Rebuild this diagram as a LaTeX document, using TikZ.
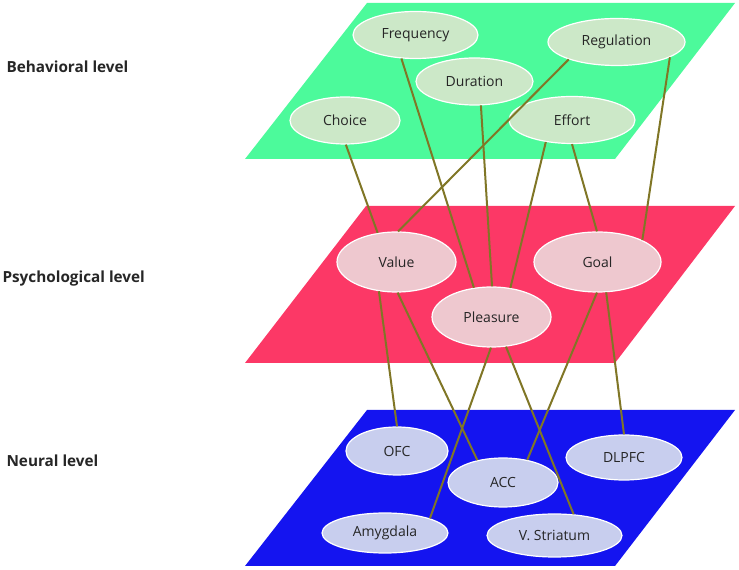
\documentclass[tikz,border=0pt]{standalone}
\usepackage{fontspec}
\setmainfont{Open Sans}
\usepackage{tikz}
\usetikzlibrary{shapes}
\definecolor{behavPlane}{RGB}{76,250,155}
\definecolor{psychPlane}{RGB}{252,56,102}
\definecolor{neuralPlane}{RGB}{20,20,240}
\definecolor{behavFill}{RGB}{204,232,200}
\definecolor{psychFill}{RGB}{238,200,207}
\definecolor{neuralFill}{RGB}{200,206,238}
\definecolor{linkColor}{RGB}{128,118,38}
\tikzset{%
  % Specifications for style of nodes:
     base/.style = {ellipse, draw=white, line width=1.2pt, inner sep=0pt,
                           text centered, text=black!85, font=\fontsize{14}{16}\selectfont},
    behavioral/.style = {base, minimum height=47pt, fill=behavFill},
    psychological/.style = {base, minimum height=60pt, fill=psychFill},
    neural/.style = {base, minimum height=45pt, fill=neuralFill},
    levelLabel/.style = {anchor=west, text=black!85, font=\fontsize{15.3}{17}\selectfont\bfseries},
    link/.style = {draw=linkColor, line width=2pt},
}
\begin{document}
\begin{tikzpicture}[x=1pt, y=1pt, node distance=100pt]
  \useasboundingbox (0,0) rectangle (739,570);
  % Planes of the three levels
  \fill[behavPlane]  (245,411) -- (615,411) -- (735,567) -- (367,567) -- cycle;
  \fill[psychPlane]  (245,207) -- (615,207) -- (735,364) -- (366,364) -- cycle;
  \fill[neuralPlane] (245,4) -- (615,4) -- (735,160) -- (367,160) -- cycle;

  \node (behavLabel)  [levelLabel] at (3,503) {Behavioral level};
  \node (psychLabel)  [levelLabel] at (-1,291) {Psychological level};
  \node (neuralLabel) [levelLabel] at (3,109) {Neural level};

  % Specification of nodes (position, etc.)
  \node (choice)      [behavioral, minimum width=110pt] at (345,449.5) {Choice};
  \node (frequency)   [behavioral, minimum width=125pt, right of=choice, xshift=-29.5pt, yshift=85.5pt]
                              {Frequency};
  \node (duration)    [behavioral, minimum width=117pt, right of=frequency, xshift=-41pt, yshift=-46.5pt]
                              {Duration};
  \node (effort)      [behavioral, minimum width=126pt, right of=duration, xshift=-2.5pt, yshift=-38.5pt]
                              {Effort};
  \node (regulation)  [behavioral, minimum width=137pt, right of=frequency, xshift=101pt, yshift=-7pt]
                              {Regulation};

  \node (value)       [psychological, minimum width=119pt, below of=choice, xshift=51.5pt, yshift=-41.5pt]
                              {Value};
  \node (pleasure)    [psychological, minimum width=119pt, right of=value, xshift=-5pt, yshift=-55pt]
                              {Pleasure};
  \node (goal)        [psychological, minimum width=127pt, right of=pleasure, xshift=6pt, yshift=55pt]
                              {Goal};

  \node (ofc)         [neural, minimum width=102pt, minimum height=48pt, below of=value, xshift=0.5pt, yshift=-89pt]
                              {OFC};
  \node (acc)         [neural, minimum width=110pt, minimum height=49pt, right of=ofc, xshift=6pt, yshift=-31.5pt]
                              {ACC};
  \node (dlpfc)       [neural, minimum width=116pt, right of=acc, xshift=21pt, yshift=25pt]
                              {DLPFC};
  \node (amygdala)    [neural, minimum width=126pt, minimum height=40pt, below of=ofc, xshift=-12pt, yshift=18pt]
                              {Amygdala};
  \node (striatum)    [neural, minimum width=135pt, minimum height=43pt, right of=amygdala, xshift=69.5pt, yshift=-2.5pt]
                              {V. Striatum};

  % Specification of lines between nodes specified above
  \draw[link] (choice.-88)      to (value.123);
  \draw[link] (regulation.200)  to (value.87);
  \draw[link] (frequency.-121)  to (pleasure.121);
  \draw[link] (duration.-75)    to (pleasure.89);
  \draw[link] (effort.-140)     to (pleasure.57);
  \draw[link] (effort.-90)      to (goal.91);
  \draw[link] (regulation.-16)  to (goal.26);

  \draw[link] (value.-121)      to (ofc.90);
  \draw[link] (value.-88)       to (acc.139);
  \draw[link] (pleasure.-91)    to (amygdala.18);
  \draw[link] (pleasure.-64)    to (striatum.48);
  \draw[link] (goal.-91)        to (acc.43);
  \draw[link] (goal.-74)        to (dlpfc.90);
\end{tikzpicture}
\end{document}
